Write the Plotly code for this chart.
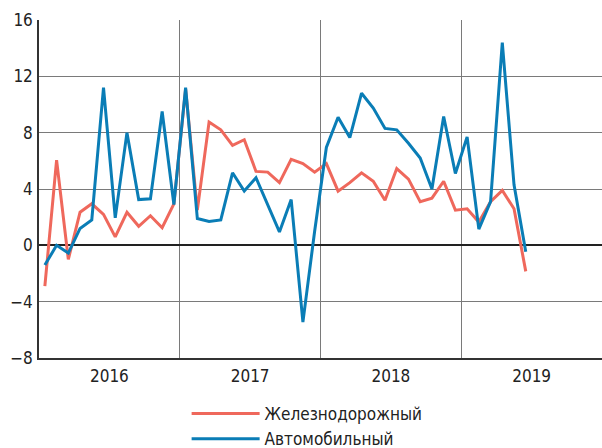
import plotly.graph_objects as go

years = ["2016", "2017", "2018", "2019"]
months_per_year = 12

rail = [
    -2.9, 6.05, -1.0, 2.35, 2.95, 2.2, 0.6, 2.35, 1.35, 2.1, 1.25, 2.95,
    11.1, 2.5, 8.75, 8.2, 7.1, 7.5, 5.25, 5.2, 4.45, 6.1, 5.8, 5.2,
    5.8, 3.85, 4.45, 5.15, 4.55, 3.2, 5.45, 4.7, 3.1, 3.35, 4.55, 2.5,
    2.6, 1.65, 3.1, 3.9, 2.6, -1.85,
]
road = [
    -1.4, 0.0, -0.55, 1.2, 1.8, 11.2, 1.95, 8.0, 3.25, 3.3, 9.5, 2.9,
    11.2, 1.9, 1.7, 1.8, 5.15, 3.85, 4.8, 2.9, 0.95, 3.25, -5.45, 1.0,
    6.95, 9.1, 7.65, 10.8, 9.75, 8.3, 8.2, 7.25, 6.2, 4.0, 9.15, 5.1,
    7.7, 1.15, 3.1, 14.4, 4.3, -0.45,
]
y_ticks = [-8, -4, 0, 4, 8, 12, 16]

x_rail = [i + 0.5 for i in range(len(rail))]
x_road = [i + 0.5 for i in range(len(road))]
year_centers = [k * months_per_year + months_per_year / 2 for k in range(len(years))]

FONT = "Liberation Sans Narrow, DejaVu Sans Condensed, Arial Narrow, sans-serif"
RED = "#EF685C"
BLUE = "#0A7DB6"
TXT = "#222222"

fig = go.Figure()
fig.add_trace(go.Scatter(x=x_rail, y=rail, mode="lines", name="Железнодорожный",
                         line=dict(color=RED, width=3)))
fig.add_trace(go.Scatter(x=x_road, y=road, mode="lines", name="Автомобильный",
                         line=dict(color=BLUE, width=3)))

fig.update_layout(
    width=602, height=448,
    margin=dict(l=39, r=0, t=20, b=90, autoexpand=False),
    paper_bgcolor="white", plot_bgcolor="white",
    font=dict(family=FONT, size=17, color=TXT),
    showlegend=True,
    legend=dict(xref="container", yref="container", x=0.31, y=0.116,
                xanchor="left", yanchor="top", itemwidth=68,
                font=dict(family=FONT, size=17, color=TXT),
                bgcolor="rgba(0,0,0,0)", tracegroupgap=0),
    xaxis=dict(range=[0, len(years) * months_per_year], showgrid=False,
               tickvals=year_centers, ticktext=years, ticks="", automargin=False,
               ticklabelstandoff=2,
               zeroline=False, showline=True, linecolor="#333333", linewidth=1.5,
               minor=dict(tick0=0, dtick=12, showgrid=True, gridcolor="#7a7a7a", gridwidth=1),
               tickfont=dict(family=FONT, size=17, color=TXT)),
    yaxis=dict(range=[-8, 16], tickvals=y_ticks, showgrid=True, automargin=False,
               gridcolor="#7a7a7a", gridwidth=1,
               zeroline=True, zerolinecolor="#222222", zerolinewidth=1.5,
               showline=True, linecolor="#333333", linewidth=1.5,
               ticks="", ticklabelstandoff=1,
               tickfont=dict(family=FONT, size=17, color=TXT)),
)

fig.write_html("out.html", config={"displayModeBar": False},
               post_script="document.body.style.margin='0';document.body.style.overflow='hidden';")
